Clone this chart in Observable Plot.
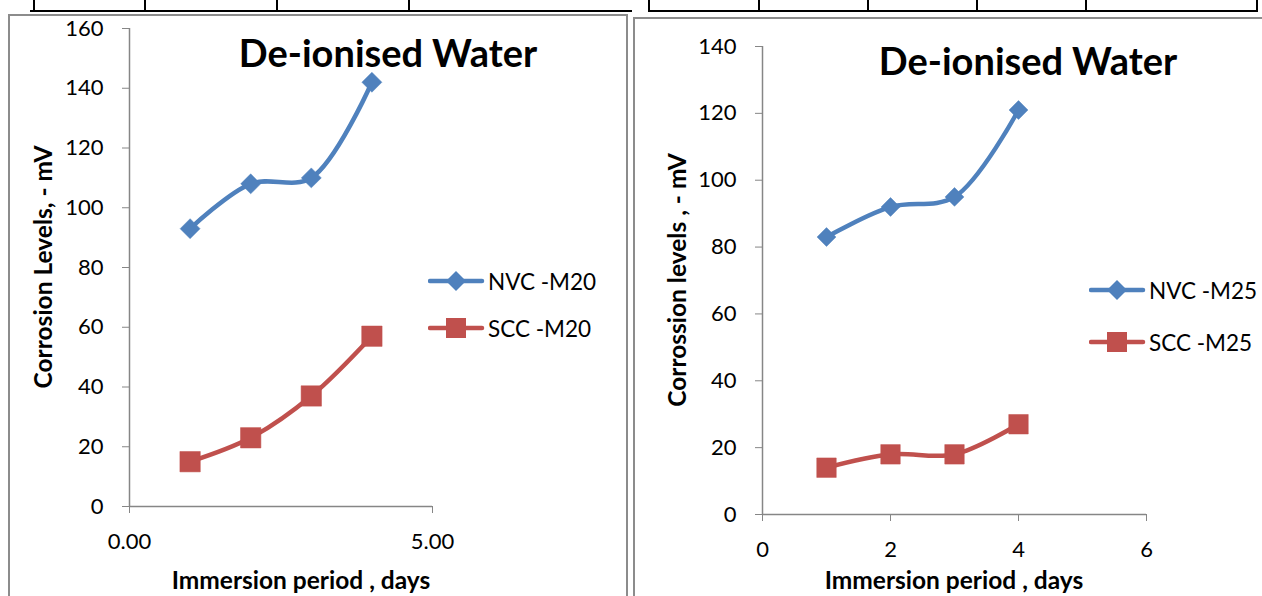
<!DOCTYPE html>
<html>
<head>
<meta charset="utf-8">
<script src="https://cdn.jsdelivr.net/npm/d3@7"></script>
<script src="https://cdn.jsdelivr.net/npm/@observablehq/plot@0.6"></script>
<style>
  html, body { margin: 0; padding: 0; background: #fff; }
  body { width: 1262px; height: 596px; position: relative; overflow: hidden; font-family: Lato, "Open Sans", sans-serif; }
  .frame { position: absolute; border: 2px solid #8c8c8c; box-sizing: border-box; }
  .title { position: absolute; font-weight: bold; font-size: 38px; color: #000; white-space: nowrap; transform: translateX(-50%); }
  .xlab { position: absolute; font-weight: bold; font-size: 24.5px; white-space: nowrap; transform: translateX(-50%); }
  .ylab { position: absolute; font-weight: bold; font-size: 24.5px; white-space: nowrap; transform: translate(-50%,-50%) rotate(-90deg); }
  .legend { position: absolute; font-size: 22.5px; }
  .legend div { display: flex; align-items: center; height: 24px; white-space: nowrap; }
  .tline { position: absolute; background: #000; }
</style>
</head>
<body>
<script>
// ---- data ----
const daysM20 = [1, 2, 3, 4];
const nvcM20 = [93, 108, 110, 142];
const sccM20 = [15, 23, 37, 57];

const daysM25 = [1, 2, 3, 4];
const nvcM25 = [83, 92, 95, 121];
const sccM25 = [14, 18, 18, 27];

const yTicksM20 = [0, 20, 40, 60, 80, 100, 120, 140, 160];
const xTicksM20 = [0, 5];
const yTicksM25 = [0, 20, 40, 60, 80, 100, 120, 140];
const xTicksM25 = [0, 2, 4, 6];

const titleText = "De-ionised Water";
const xLabel = "Immersion period , days";
const yLabelM20 = "Corrosion Levels, - mV";
const yLabelM25 = "Corrossion levels , - mV";
const seriesM20 = ["NVC -M20", "SCC -M20"];
const seriesM25 = ["NVC -M25", "SCC -M25"];

const BLUE = "#4F81BD", RED = "#C0504D", AXIS = "#868686";

// ---- decoration: table lines at top ----
function hline(x1, x2, y, w) {
  const d = document.createElement("div"); d.className = "tline";
  Object.assign(d.style, {left: x1 + "px", top: y + "px", width: (x2 - x1) + "px", height: w + "px"});
  document.body.appendChild(d);
}
function vline(x, y1, y2, w) {
  const d = document.createElement("div"); d.className = "tline";
  Object.assign(d.style, {left: x + "px", top: y1 + "px", width: w + "px", height: (y2 - y1) + "px"});
  document.body.appendChild(d);
}
hline(30, 632, 10, 2);
hline(648, 1258, 10, 2);
[33, 144, 276, 408].forEach(x => vline(x, 0, 11, 2));
[648, 758, 867, 976, 1085, 1256].forEach(x => vline(x, 0, 11, 2));

// frames
function frame(l, t, w, h) {
  const d = document.createElement("div"); d.className = "frame";
  Object.assign(d.style, {left: l + "px", top: t + "px", width: w + "px", height: h + "px"});
  document.body.appendChild(d);
}
frame(8, 14, 620, 600);
frame(633, 17, 640, 600);

function makeChart({left, top, width, height, mL, mR, mT, mB, xDomain, yDomain, xTicks, yTicks, xFmt, days, nvc, scc, sq, dia}) {
  const nv = days.map((d, i) => ({day: d, v: nvc[i]}));
  const sc = days.map((d, i) => ({day: d, v: scc[i]}));
  const p = Plot.plot({
    width, height,
    marginLeft: mL, marginRight: mR, marginTop: mT, marginBottom: mB,
    x: {domain: xDomain},
    y: {domain: yDomain},
    style: {fontFamily: "Lato, 'Open Sans', sans-serif", fontSize: "22px", color: "#000", background: "transparent", overflow: "visible"},
    marks: [
      Plot.ruleX([xDomain[0]], {stroke: AXIS, strokeWidth: 1.5}),
      Plot.ruleY([yDomain[0]], {stroke: AXIS, strokeWidth: 1.5}),
      Plot.axisY({ticks: yTicks, tickSize: 7, tickPadding: 19, stroke: AXIS, label: null, fill: "#000"}),
      Plot.axisX({ticks: xTicks, tickSize: 7, tickPadding: 20, stroke: AXIS, label: null, tickFormat: xFmt, fill: "#000"}),
      Plot.line(nv, {x: "day", y: "v", stroke: BLUE, strokeWidth: 4.5, curve: "catmull-rom"}),
      Plot.line(sc, {x: "day", y: "v", stroke: RED, strokeWidth: 4.5, curve: "catmull-rom"}),
      Plot.dot(nv, {x: "day", y: "v", symbol: "diamond2", r: dia, fill: BLUE, stroke: BLUE, strokeWidth: 0.5}),
      Plot.dot(sc, {x: "day", y: "v", symbol: "square", r: sq, fill: RED, stroke: RED, strokeWidth: 0.5})
    ]
  });
  p.style.position = "absolute";
  p.style.left = left + "px";
  p.style.top = top + "px";
  document.body.appendChild(p);
}

makeChart({left: 0, top: 0, width: 630, height: 596, mL: 129, mR: 198, mT: 28, mB: 90,
  xDomain: [0, 5], yDomain: [0, 160], xTicks: xTicksM20, yTicks: yTicksM20, xFmt: d3.format(".2f"),
  days: daysM20, nvc: nvcM20, scc: sccM20, sq: 11.5, dia: 9});
makeChart({left: 632, top: 0, width: 630, height: 596, mL: 130, mR: 116, mT: 46, mB: 82,
  xDomain: [0, 6], yDomain: [0, 140], xTicks: xTicksM25, yTicks: yTicksM25, xFmt: d3.format("d"),
  days: daysM25, nvc: nvcM25, scc: sccM25, sq: 11, dia: 8.5});

// titles & labels
function text(cls, str, l, t) {
  const d = document.createElement("div"); d.className = cls; d.textContent = str;
  Object.assign(d.style, {left: l + "px", top: t + "px"});
  document.body.appendChild(d);
  return d;
}
text("title", titleText, 388, 29);
text("title", titleText, 1028, 37);
text("xlab", xLabel, 301, 565);
text("xlab", xLabel, 954, 565);
text("ylab", yLabelM20, 42, 267);
text("ylab", yLabelM25, 676, 280);

function legend(l, t, gap, names) {
  const box = document.createElement("div"); box.className = "legend";
  Object.assign(box.style, {left: l + "px", top: t + "px"});
  const cols = [BLUE, RED];
  names.forEach((n, i) => {
    const row = document.createElement("div");
    row.style.marginBottom = (i === 0 ? gap : 0) + "px";
    const mk = i === 0
      ? `<polygon points="28,2 38,12 28,22 18,12" fill="${cols[i]}"/>`
      : `<rect x="18" y="2" width="20" height="20" fill="${cols[i]}"/>`;
    row.innerHTML = `<svg width="60" height="24"><line x1="2" y1="12" x2="54" y2="12" stroke="${cols[i]}" stroke-width="4.5" stroke-linecap="round"/>${mk}</svg><span>${n}</span>`;
    box.appendChild(row);
  });
  document.body.appendChild(box);
}
legend(428, 269, 23, seriesM20);
legend(1089, 278, 28, seriesM25);
</script>
</body>
</html>
